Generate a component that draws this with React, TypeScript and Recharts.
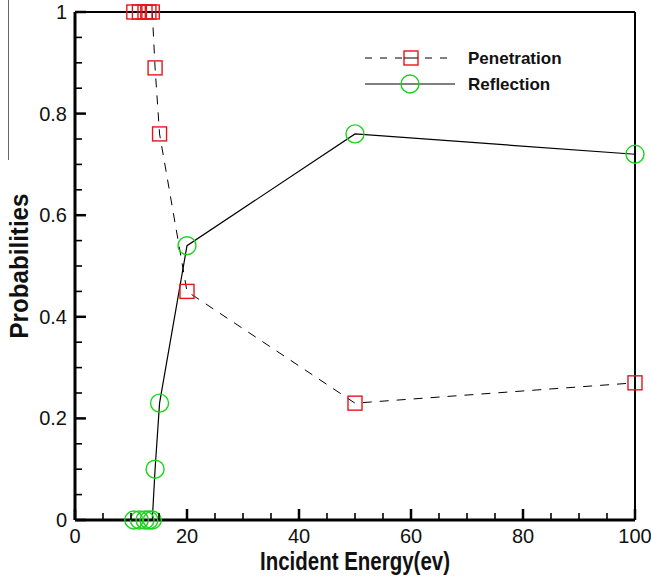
import { Label, Line, LineChart, ReferenceLine, XAxis, YAxis } from "recharts";

// incident energy (eV) and the two probability curves
const energies = [10.5, 11.5, 12.5, 13.2, 13.8, 14.3, 15.1, 20, 50, 100];
const penetration = [1, 1, 1, 1, 1, 0.89, 0.76, 0.45, 0.23, 0.27];
const reflection = [0, 0, 0, 0, 0, 0.1, 0.23, 0.54, 0.76, 0.72];

const xTicks = [0, 5, 10, 15, 20, 25, 30, 35, 40, 45, 50, 55, 60, 65, 70, 75, 80, 85, 90, 95, 100];
const yTicks = [0, 0.05, 0.1, 0.15, 0.2, 0.25, 0.3, 0.35, 0.4, 0.45, 0.5, 0.55, 0.6, 0.65, 0.7, 0.75, 0.8, 0.85, 0.9, 0.95, 1];

const data = energies.map((e, i) => ({
  energy: e,
  penetration: penetration[i],
  reflection: reflection[i],
}));

const RED = "#e8141c";
const GREEN = "#19d419";
const FONT = "'Liberation Sans', Arial, sans-serif";

const isMajor = (v: number, step: number) => Math.abs(v / step - Math.round(v / step)) < 1e-6;

const renderXTick = (props: any) => {
  const { x, y, payload, index } = props;
  const major = isMajor(payload.value, 20);
  return (
    <g key={`xt-${index}`}>
      <path d={`M${x},${y}V${y - (major ? 11 : 7)}`} stroke="#000" strokeWidth={major ? 2.5 : 1.6} fill="none" />
      {major && (
        <text x={x} y={y + 23} textAnchor="middle" fontSize={20} fontFamily={FONT} fill="#111">
          {payload.value}
        </text>
      )}
    </g>
  );
};

const renderYTick = (props: any) => {
  const { x, y, payload, index } = props;
  const major = isMajor(payload.value, 0.2);
  return (
    <g key={`yt-${index}`}>
      <path d={`M${x},${y}H${x + (major ? 11 : 7)}`} stroke="#000" strokeWidth={major ? 2.5 : 1.6} fill="none" />
      {major && (
        <text x={x - 8} y={y + 7} textAnchor="end" fontSize={20} fontFamily={FONT} fill="#111">
          {Math.round(payload.value * 10) / 10}
        </text>
      )}
    </g>
  );
};

const squareDot = (p: any) => (
  <rect key={`sq-${p.index}`} x={p.cx - 7} y={p.cy - 7} width={14} height={14} fill="none" stroke={RED} strokeWidth={1.4} />
);
const circleDot = (p: any) => (
  <circle key={`ci-${p.index}`} cx={p.cx} cy={p.cy} r={9} fill="none" stroke={GREEN} strokeWidth={1.4} />
);

function LegendBox() {
  return (
    <svg width={240} height={50} style={{ position: "absolute", left: 360, top: 45 }}>
      <line x1={5} y1={13} x2={95} y2={13} stroke="#000" strokeWidth={1} strokeDasharray="7 8" />
      <rect x={44} y={6} width={14} height={14} fill="#fff" stroke={RED} strokeWidth={1.4} />
      <line x1={44} y1={13} x2={58} y2={13} stroke="#000" strokeWidth={1} />
      <text x={108} y={19} fontSize={17} fontWeight="bold" fontFamily={FONT} fill="#111">
        Penetration
      </text>
      <line x1={5} y1={39} x2={95} y2={39} stroke="#000" strokeWidth={1} />
      <circle cx={50} cy={39} r={9} fill="none" stroke={GREEN} strokeWidth={1.4} />
      <text x={108} y={45} fontSize={17} fontWeight="bold" fontFamily={FONT} fill="#111">
        Reflection
      </text>
    </svg>
  );
}

export default function App() {
  return (
    <div style={{ position: "absolute", left: 0, top: 0, width: 651, height: 577, background: "#fff" }}>
      <div style={{ position: "absolute", left: 8, top: 0, width: 1, height: 160, background: "#666" }} />
      <LineChart width={651} height={577} data={data} margin={{ top: 12, right: 16, left: 0, bottom: 0 }}>
        <ReferenceLine y={1} stroke="#000" strokeWidth={2} />
        <ReferenceLine x={100} stroke="#000" strokeWidth={2} />
        <XAxis
          type="number"
          dataKey="energy"
          domain={[0, 100]}
          ticks={xTicks}
          interval={0}
          height={57}
          tickSize={0}
          tickMargin={0}
          tickLine={false}
          tick={renderXTick}
          axisLine={{ stroke: "#000", strokeWidth: 3 }}
        >
          <Label
            content={(p: any) => {
              const vb = p.viewBox;
              return (
                <text
                  x={vb.x + vb.width / 2}
                  y={vb.y + 50}
                  textAnchor="middle"
                  fontSize={25}
                  fontWeight="bold"
                  fontFamily={FONT}
                  fill="#111"
                  textLength={190}
                  lengthAdjust="spacingAndGlyphs"
                >
                  Incident Energy(ev)
                </text>
              );
            }}
          />
        </XAxis>
        <YAxis
          type="number"
          domain={[0, 1]}
          ticks={yTicks}
          interval={0}
          width={75}
          tickSize={0}
          tickMargin={0}
          tickLine={false}
          tick={renderYTick}
          axisLine={{ stroke: "#000", strokeWidth: 3 }}
        >
          <Label
            content={(p: any) => {
              const vb = p.viewBox;
              const cy = vb.y + vb.height / 2;
              return (
                <text
                  x={28}
                  y={cy}
                  transform={`rotate(-90, 28, ${cy})`}
                  textAnchor="middle"
                  fontSize={25}
                  fontWeight="bold"
                  fontFamily={FONT}
                  fill="#111"
                  textLength={145}
                  lengthAdjust="spacingAndGlyphs"
                >
                  Probabilities
                </text>
              );
            }}
          />
        </YAxis>
        <Line
          type="linear"
          dataKey="penetration"
          stroke="#000"
          strokeWidth={1}
          strokeDasharray="9 8"
          dot={squareDot}
          activeDot={false}
          isAnimationActive={false}
        />
        <Line
          type="linear"
          dataKey="reflection"
          stroke="#000"
          strokeWidth={1.2}
          dot={circleDot}
          activeDot={false}
          isAnimationActive={false}
        />
      </LineChart>
      <LegendBox />
    </div>
  );
}
